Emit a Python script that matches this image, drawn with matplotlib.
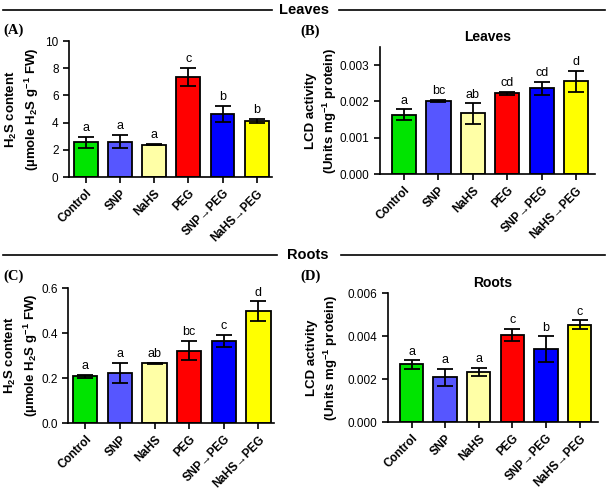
import matplotlib
matplotlib.use('Agg')
import matplotlib.pyplot as plt

plt.rcParams['font.family'] = ['Liberation Sans', 'DejaVu Sans']
plt.rcParams['mathtext.fontset'] = 'custom'
plt.rcParams['mathtext.rm'] = 'Liberation Sans:bold'
plt.rcParams['mathtext.bf'] = 'Liberation Sans:bold'
plt.rcParams['mathtext.default'] = 'bf'

treatments = ['Control', 'SNP', 'NaHS', 'PEG', 'SNP→PEG', 'NaHS→PEG']
bar_colors = ['#00E400', '#5656FF', '#FFFFA6', '#FF0000', '#0000FF', '#FFFF00']

# (A) leaves H2S
leaf_h2s = [2.55, 2.6, 2.38, 7.35, 4.65, 4.12]
leaf_h2s_err = [0.4, 0.5, 0.05, 0.65, 0.6, 0.15]
leaf_h2s_sig = ['a', 'a', 'a', 'c', 'b', 'b']

# (B) leaves LCD
leaf_lcd = [0.00163, 0.00201, 0.00167, 0.00222, 0.00236, 0.00255]
leaf_lcd_err = [0.00015, 0.00003, 0.00028, 0.00005, 0.00018, 0.0003]
leaf_lcd_sig = ['a', 'bc', 'ab', 'cd', 'cd', 'd']

# (C) roots H2S
root_h2s = [0.207, 0.222, 0.265, 0.322, 0.364, 0.498]
root_h2s_err = [0.008, 0.046, 0.003, 0.042, 0.027, 0.043]
root_h2s_sig = ['a', 'a', 'ab', 'bc', 'c', 'd']

# (D) roots LCD
root_lcd = [0.00268, 0.00208, 0.00233, 0.00406, 0.00338, 0.00453]
root_lcd_err = [0.0002, 0.0004, 0.0002, 0.00028, 0.0006, 0.0002]
root_lcd_sig = ['a', 'a', 'a', 'c', 'b', 'c']

W, H = 608, 490
fig = plt.figure(figsize=(W / 100, H / 100), dpi=100)


def px_axes(left, top, right, bottom):
    return fig.add_axes([left / W, 1 - bottom / H, (right - left) / W, (bottom - top) / H])


def panel(ax, vals, errs, sig, ylim, yticks, fmt, ylabel, labx, title=None, xlim=(-0.5, 5.45)):
    x = range(len(vals))
    ax.bar(x, vals, width=0.7, color=bar_colors, edgecolor='black', linewidth=1.3, zorder=2)
    ax.errorbar(x, vals, yerr=errs, fmt='none', ecolor='black', elinewidth=1.3,
                capsize=6, capthick=1.3, zorder=3)
    off = (ylim[1] - ylim[0]) * 0.02
    for i, (v, e, s) in enumerate(zip(vals, errs, sig)):
        ax.text(i, v + e + off, s, ha='center', va='bottom', fontsize=9)
    ax.set_ylim(*ylim)
    ax.set_xlim(*xlim)
    ax.set_yticks(yticks)
    ax.set_yticklabels([fmt.format(t) for t in yticks], fontsize=8.5)
    ax.set_xticks(list(x))
    ax.set_xticklabels(treatments, rotation=45, ha='right', rotation_mode='anchor',
                       fontsize=8.5, fontweight='bold')
    for s in ['top', 'right']:
        ax.spines[s].set_visible(False)
    for s in ['left', 'bottom']:
        ax.spines[s].set_linewidth(1.2)
    ax.tick_params(width=1.2, length=4)
    ax.set_ylabel(ylabel, fontsize=9.5, fontweight='bold', linespacing=1.3, va='center')
    ax.yaxis.set_label_coords(labx, 0.5)
    if title:
        ax.set_title(title, fontsize=10, fontweight='bold', pad=4)


h2s_label = 'H$_2$S content\n(µmole H$_2$S g$^{-1}$ FW)'
lcd_label = 'LCD activity\n(Units mg$^{-1}$ protein)'

axA = px_axes(69, 41, 272, 177)
panel(axA, leaf_h2s, leaf_h2s_err, leaf_h2s_sig, (0, 10), [0, 2, 4, 6, 8, 10], '{:g}',
      h2s_label, -0.23)

axB = px_axes(380, 47, 595, 174)
panel(axB, leaf_lcd, leaf_lcd_err, leaf_lcd_sig, (0, 0.0035), [0, 0.001, 0.002, 0.003], '{:.3f}',
      lcd_label, -0.27, title='Leaves', xlim=(-0.7, 5.55))

axC = px_axes(68, 288, 274, 423)
panel(axC, root_h2s, root_h2s_err, root_h2s_sig, (0, 0.6), [0, 0.2, 0.4, 0.6], '{:.1f}',
      h2s_label, -0.225)

axD = px_axes(388, 293, 598, 422)
panel(axD, root_lcd, root_lcd_err, root_lcd_sig, (0, 0.006), [0, 0.002, 0.004, 0.006], '{:.3f}',
      lcd_label, -0.31, title='Roots', xlim=(-0.7, 5.55))

# section headers with rules
for label, y, x0, x1, x2, x3 in [('Leaves', 10, 3, 272, 336, 605), ('Roots', 255, 3, 277, 338, 605)]:
    yf = 1 - y / H
    fig.text((x1 + x2) / 2 / W, yf, label, ha='center', va='center', fontsize=10.5, fontweight='bold')
    fig.add_artist(plt.Line2D([x0 / W, x1 / W], [yf, yf], color='black', lw=1.2))
    fig.add_artist(plt.Line2D([x2 / W + 0.005, x3 / W], [yf, yf], color='black', lw=1.2))

for lab, x, y in [('(A)', 3, 30), ('(B)', 300, 31), ('(C)', 3, 276), ('(D)', 300, 276)]:
    fig.text(x / W, 1 - y / H, lab, ha='left', va='center', fontsize=10.5, fontweight='bold',
             family='Liberation Serif')

fig.savefig('out.png', dpi=100)
